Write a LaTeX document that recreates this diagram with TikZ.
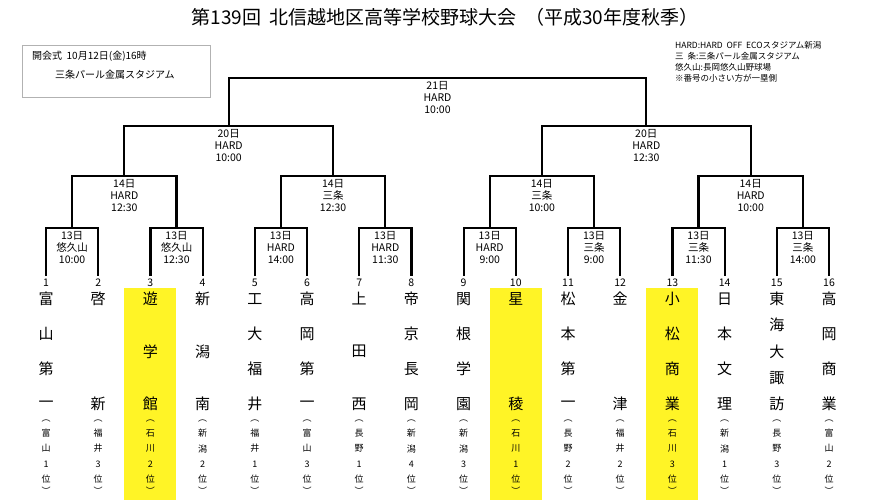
\documentclass[tikz,border=0pt]{standalone}
\usepackage{fontspec}
\setmainfont{Noto Sans CJK JP}
\usetikzlibrary{positioning}

\tikzset{
  bline/.style={line width=2.2pt},
  gamelbl/.style={font=\fontsize{10.5}{12}\selectfont, align=center, inner sep=0pt, anchor=north},
  teamnum/.style={font=\fontsize{10.5}{10}\selectfont, inner sep=0pt},
  teamchar/.style={font=\fontsize{15}{15}\selectfont, inner sep=0pt},
  prefchar/.style={font=\fontsize{9}{9}\selectfont, inner sep=0pt},
  hilite/.style={fill=yellow!85!white, draw=none}
}

% one game: name, left x, right x, top y, bottom y, label
\newcommand{\game}[6]{%
  \coordinate (#1-l) at ({#2},#5);
  \coordinate (#1-r) at ({#3},#5);
  \coordinate (#1) at ({(#2+#3)/2},#4);
  \draw[bline] (#1-l) |- (#1) -| (#1-r);
  \node[gamelbl] (#1-lbl) at ({(#2+#3)/2},{#4+3}) {#6};
}

\newcommand{\tx}[1]{(46+(#1-1)*52.2)}

\begin{document}
\begin{tikzpicture}[x=1pt,y=-1pt]
  \useasboundingbox (0,0) rectangle (890,500);

  % highlighted schools
  \foreach \t in {3,10,13}
    \fill[hilite] ({\tx{\t}-26},288) rectangle ({\tx{\t}+26},500);

  % title and notes
  \node[font=\fontsize{19}{19}\selectfont] (title) at (445,17) {第139回\ \ 北信越地区高等学校野球大会\ \ （平成30年度秋季）};
  \draw[gray!60, line width=0.8pt] (22,45) rectangle (210,97);
  \node[anchor=west, font=\fontsize{10}{11}\selectfont, inner sep=0pt] (open1) at (32,56) {開会式\ \ 10月12日(金)16時};
  \node[anchor=west, font=\fontsize{10}{11}\selectfont, inner sep=0pt] (open2) at (55,75) {三条パール金属スタジアム};
  \node[anchor=north west, align=left, font=\fontsize{8.5}{11}\selectfont, inner sep=0pt] (legend) at (675,41)
    {HARD:HARD\ \ OFF\ \ ECOスタジアム新潟\\三\ \ 条:三条パール金属スタジアム\\悠久山:長岡悠久山野球場\\※番号の小さい方が一塁側};

  % first round
  \game{g1}{\tx{1}}{\tx{2}}{228}{276}{13日\\悠久山\\10:00}
  \game{g2}{\tx{3}}{\tx{4}}{228}{276}{13日\\悠久山\\12:30}
  \game{g3}{\tx{5}}{\tx{6}}{228}{276}{13日\\HARD\\14:00}
  \game{g4}{\tx{7}}{\tx{8}}{228}{276}{13日\\HARD\\11:30}
  \game{g5}{\tx{9}}{\tx{10}}{228}{276}{13日\\HARD\\9:00}
  \game{g6}{\tx{11}}{\tx{12}}{228}{276}{13日\\三条\\9:00}
  \game{g7}{\tx{13}}{\tx{14}}{228}{276}{13日\\三条\\11:30}
  \game{g8}{\tx{15}}{\tx{16}}{228}{276}{13日\\三条\\14:00}

  % quarter finals
  \game{q1}{(\tx{1}+\tx{2})/2}{(\tx{3}+\tx{4})/2}{176}{228}{14日\\HARD\\12:30}
  \game{q2}{(\tx{5}+\tx{6})/2}{(\tx{7}+\tx{8})/2}{176}{228}{14日\\三条\\12:30}
  \game{q3}{(\tx{9}+\tx{10})/2}{(\tx{11}+\tx{12})/2}{176}{228}{14日\\三条\\10:00}
  \game{q4}{(\tx{13}+\tx{14})/2}{(\tx{15}+\tx{16})/2}{176}{228}{14日\\HARD\\10:00}

  % semi finals and final
  \game{s1}{(\tx{1}+\tx{4})/2}{(\tx{5}+\tx{8})/2}{126}{176}{20日\\HARD\\10:00}
  \game{s2}{(\tx{9}+\tx{12})/2}{(\tx{13}+\tx{16})/2}{126}{176}{20日\\HARD\\12:30}
  \game{f}{(\tx{1}+\tx{8})/2}{(\tx{9}+\tx{16})/2}{78}{126}{21日\\HARD\\10:00}

  % schools: number / name rows / prefecture
  \foreach \t/\nm/\pf in {
      1/{富,山,第,一}/{富,山,1,位},
      2/{啓,,,新}/{福,井,3,位},
      3/{遊,,学,,館}/{石,川,2,位},
      4/{新,,潟,,南}/{新,潟,2,位},
      5/{工,大,福,井}/{福,井,1,位},
      6/{高,岡,第,一}/{富,山,3,位},
      7/{上,,田,,西}/{長,野,1,位},
      8/{帝,京,長,岡}/{新,潟,4,位},
      9/{関,根,学,園}/{新,潟,3,位},
      10/{星,,,稜}/{石,川,1,位},
      11/{松,本,第,一}/{長,野,2,位},
      12/{金,,,津}/{福,井,2,位},
      13/{小,松,商,業}/{石,川,3,位},
      14/{日,本,文,理}/{新,潟,1,位},
      15/{東,海,大,諏,訪}/{長,野,3,位},
      16/{高,岡,商,業}/{富,山,2,位}} {
    \node[teamnum] (n\t) at ({\tx{\t}},283) {\t};
    \foreach \c [count=\k] in \nm {\xdef\nrows{\k}}
    \foreach \c [count=\k] in \nm
      \node[teamchar] at ({\tx{\t}},{299+(\k-1)*105/(\nrows-1)}) {\c};
    \node[prefchar] at ({\tx{\t}},421) {︵};
    \foreach \c [count=\k] in \pf
      \node[prefchar] at ({\tx{\t}},{418+\k*15.3}) {\c};
    \node[prefchar] at ({\tx{\t}},491) {︶};
  }
\end{tikzpicture}
\end{document}
